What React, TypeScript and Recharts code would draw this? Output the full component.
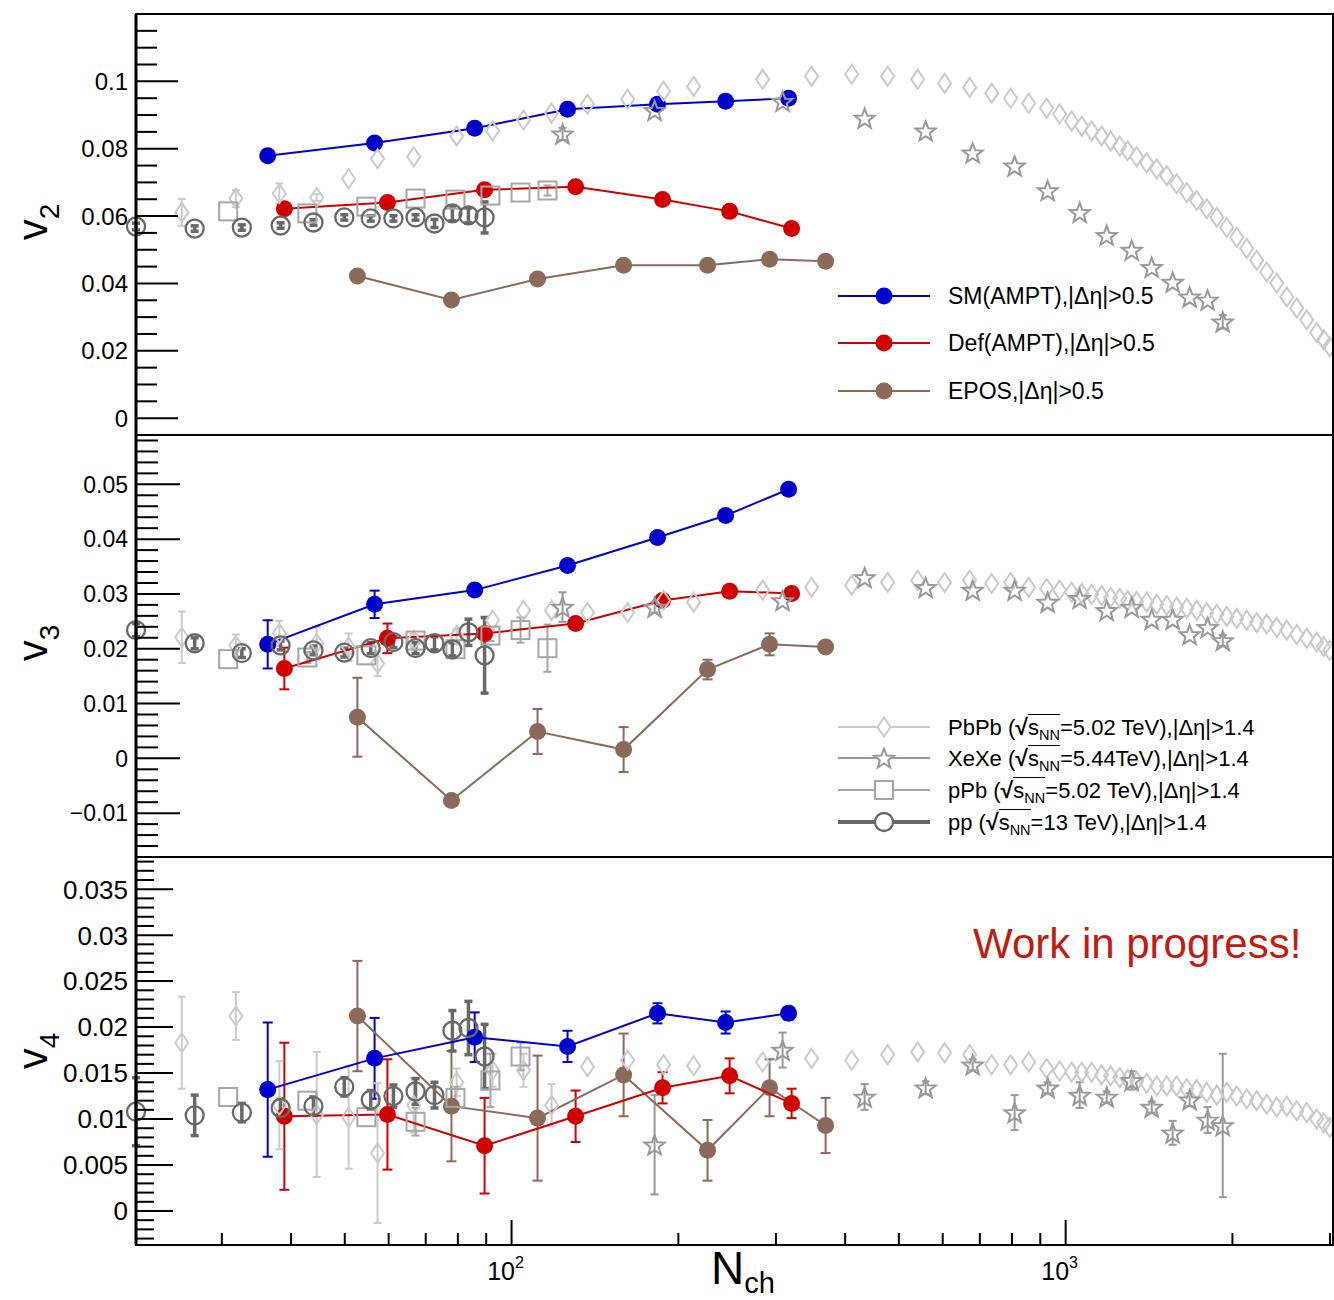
import React from 'react';
import { ComposedChart, Scatter, XAxis, YAxis, ErrorBar } from 'recharts';

const FONT = '"Liberation Sans", Arial, Helvetica, sans-serif';

// ---------------- colours ----------------
const C_SM = '#0000cc';
const C_DEF = '#d00000';
const C_EPOS = '#8c6a5b';
const C_PB = '#cacaca';
const C_XE = '#999999';
const C_PPB = '#a6a6a6';
const C_PP = '#686868';

// ---------------- x axis ----------------
const xTicks = [30, 40, 50, 60, 70, 80, 90, 100, 200, 300, 400, 500, 600, 700, 800, 900, 1000, 2000, 3000];
const xMajorTicks = [100, 1000];
const xMajorExp = ['2', '3'];
const xDomain: [number, number] = [21, 3050];

// ---------------- SM (AMPT) ----------------
const smNch = [36.3, 56.6, 85.8, 126.2, 183.4, 243.4, 316.2];
const smV2 = [0.0779, 0.0817, 0.0861, 0.0917, 0.0932, 0.0941, 0.095];
const smV3 = [0.0208, 0.0281, 0.0307, 0.0352, 0.0403, 0.0443, 0.0491];
const smV3Err = [0.0044, 0.0025, 0.001, 0, 0, 0, 0];
const smV4 = [0.0132, 0.0166, 0.0189, 0.0179, 0.0215, 0.0205, 0.0215];
const smV4Err = [0.0073, 0.0044, 0.0027, 0.0017, 0.0011, 0.0012, 0.0007];

// ---------------- Def (AMPT) ----------------
const defNch = [38.9, 59.7, 89.4, 130.5, 187.3, 247.5, 320.2];
const defV2 = [0.0622, 0.064, 0.0678, 0.0687, 0.0649, 0.0614, 0.0563];
const defV3 = [0.0164, 0.0219, 0.0228, 0.0246, 0.0288, 0.0305, 0.0301];
const defV3Err = [0.0038, 0.0027, 0.001, 0, 0, 0, 0];
const defV4 = [0.0103, 0.0105, 0.0071, 0.0103, 0.0134, 0.0147, 0.0117];
const defV4Err = [0.008, 0.006, 0.0052, 0.0028, 0.0017, 0.0019, 0.0016];

// ---------------- EPOS ----------------
const eposNch = [52.7, 77.9, 111.4, 159.3, 225.8, 292.2, 368.8];
const eposV2 = [0.0422, 0.0351, 0.0413, 0.0454, 0.0454, 0.0472, 0.0466];
const eposV2Err = [0.0015, 0.0012, 0, 0, 0, 0, 0];
const eposV3 = [0.0075, -0.0077, 0.0049, 0.0016, 0.0162, 0.0208, 0.0203];
const eposV3Err = [0.0072, 0.0004, 0.0041, 0.0041, 0.0018, 0.002, 0.001];
const eposV4 = [0.0212, 0.0114, 0.0101, 0.0148, 0.0066, 0.0134, 0.0093];
const eposV4Err = [0.006, 0.006, 0.0068, 0.0045, 0.0033, 0.0031, 0.003];

// ---------------- PbPb 5.02 TeV ----------------
const pbNch = [25.4, 31.8, 38.1, 44.5, 50.8, 57.3, 66.6, 79.6, 92.4, 105.1, 118.1, 137.1, 162.0, 188.1, 213.1, 283.9,
  347.9, 411.0, 477.2, 540.6, 604.7, 671.0, 735.3, 795.6, 857.5, 924.1, 975.4, 1025, 1069, 1114, 1161, 1206, 1252,
  1294, 1343, 1400, 1460, 1522, 1586, 1654, 1724, 1797, 1874, 1953, 2036, 2122, 2212, 2306, 2404, 2506, 2612, 2723,
  2839, 2922, 2996];
const pbV2 = [0.0611, 0.0652, 0.0667, 0.0655, 0.0711, 0.077, 0.0776, 0.0838, 0.0853, 0.0885, 0.0906, 0.0932, 0.0947,
  0.0971, 0.0985, 0.1006, 0.1015, 0.1021, 0.1015, 0.1006, 0.0994, 0.0982, 0.0965, 0.095, 0.0935, 0.092, 0.0903,
  0.0882, 0.0867, 0.0853, 0.0838, 0.0823, 0.0808, 0.0794, 0.0776, 0.0758, 0.074, 0.072, 0.0696, 0.067, 0.0646,
  0.0622, 0.0596, 0.0566, 0.0537, 0.0504, 0.0469, 0.0434, 0.0401, 0.036, 0.0327, 0.0292, 0.0254, 0.0233, 0.0212];
const pbV2Err = [0.004, 0.0025, 0.003, 0.001];
const pbV3 = [0.0221, 0.0206, 0.0228, 0.021, 0.0203, 0.0173, 0.0215, 0.0224, 0.0252, 0.027, 0.027, 0.0266, 0.0266,
  0.0288, 0.0285, 0.0307, 0.0312, 0.0316, 0.0321, 0.0325, 0.0321, 0.0325, 0.0319, 0.0321, 0.0312, 0.031, 0.0307,
  0.0303, 0.0301, 0.0299, 0.0297, 0.0294, 0.0292, 0.0288, 0.0286, 0.0285, 0.0281, 0.0279, 0.0276, 0.0274, 0.027,
  0.0266, 0.0263, 0.0259, 0.0255, 0.0252, 0.0248, 0.0245, 0.0239, 0.0234, 0.0226, 0.0219, 0.0212, 0.0204, 0.0197];
const pbV3Err = [0.0047, 0.002, 0.0023, 0.003, 0.0025, 0.0023, 0.0012, 0.0012];
const pbV4 = [0.0183, 0.0212, 0.0115, 0.0105, 0.0102, 0.0063, 0.0115, 0.014, 0.0153, 0.0153, 0.0115, 0.0157, 0.0164,
  0.0159, 0.0158, 0.0162, 0.0166, 0.0164, 0.017, 0.0173, 0.0172, 0.017, 0.0159, 0.0159, 0.0162, 0.0155, 0.0152,
  0.0151, 0.0151, 0.0151, 0.0148, 0.0147, 0.0145, 0.0143, 0.0141, 0.0139, 0.0136, 0.0136, 0.0136, 0.0133, 0.0132,
  0.0129, 0.0126, 0.0129, 0.0125, 0.0122, 0.012, 0.0116, 0.0113, 0.0114, 0.0109, 0.0107, 0.01, 0.0096, 0.0091];
const pbV4Err = [0.005, 0.0026, 0.0048, 0.0068, 0.0056, 0.0076, 0.003, 0.0015, 0.0018, 0.0018, 0.0023];

// ---------------- XeXe 5.44 TeV ----------------
const xeNch = [123.6, 181.2, 308.4, 433.7, 558.9, 679.5, 808.9, 928.0, 1060, 1186, 1316, 1430, 1560, 1674, 1804, 1921];
const xeV2 = [0.0844, 0.0914, 0.0941, 0.0891, 0.0853, 0.0788, 0.0749, 0.0676, 0.0611, 0.0543, 0.0499, 0.0448,
  0.0404, 0.036, 0.0351, 0.0286];
const xeV2Err = [0.0018, 0, 0, 0, 0, 0, 0, 0, 0, 0, 0, 0, 0, 0, 0, 0.002];
const xeV3 = [0.0276, 0.0276, 0.0288, 0.033, 0.0312, 0.0307, 0.0307, 0.0285, 0.0292, 0.027, 0.0276, 0.0254, 0.0254,
  0.0226, 0.0239, 0.0215];
const xeV3Err = [0.0027, 0.001, 0, 0, 0, 0, 0, 0, 0, 0, 0, 0, 0, 0, 0, 0.001];
const xeV4: (number | null)[] = [null, 0.0072, 0.0175, 0.0124, 0.0134, 0.0159, 0.0107, 0.0134, 0.0126, 0.0124,
  0.0142, 0.0113, 0.0085, 0.0121, 0.0099, 0.0093];
const xeV4Err = [0, 0.0054, 0.0019, 0.0014, 0.0007, 0.0006, 0.0019, 0.0006, 0.0014, 0.0006, 0.001, 0.0006, 0.0013,
  0.0007, 0.0014, 0.0078];

// ---------------- pPb 5.02 TeV ----------------
const ppbNch = [30.8, 42.8, 54.7, 67.1, 79.2, 91.6, 103.8, 116.1];
const ppbV2 = [0.0614, 0.0608, 0.0628, 0.0652, 0.0649, 0.0661, 0.067, 0.0676];
const ppbV2Err = [0, 0, 0, 0, 0, 0, 0, 0.0015];
const ppbV3 = [0.0181, 0.0184, 0.0188, 0.0215, 0.0199, 0.0224, 0.0234, 0.0201];
const ppbV3Err = [0, 0.001, 0, 0, 0, 0.001, 0.0023, 0.0043];
const ppbV4: (number | null)[] = [0.0124, 0.012, 0.0102, 0.0097, 0.0123, 0.0142, 0.0168, null];
const ppbV4Err = [0, 0, 0, 0.0015, 0.0012, 0.0029, 0.0015, 0];

// ---------------- pp 13 TeV ----------------
const ppNch = [21.0, 26.8, 32.6, 38.3, 43.9, 49.9, 55.7, 61.2, 67.1, 72.6, 78.2, 83.6, 89.4];
const ppV2 = [0.0569, 0.0563, 0.0566, 0.0572, 0.0581, 0.0596, 0.0593, 0.0593, 0.0596, 0.0578, 0.0608, 0.0602, 0.0596];
const ppV2Err = [0.001, 0.0008, 0.0008, 0.0008, 0.0008, 0.0008, 0.0008, 0.0008, 0.0008, 0.0012, 0.0022, 0.0022, 0.0046];
const ppV3 = [0.0234, 0.021, 0.0192, 0.0206, 0.0197, 0.0193, 0.0201, 0.0212, 0.0201, 0.021, 0.0199, 0.023, 0.0188];
const ppV3Err = [0.0012, 0.001, 0.0008, 0.0008, 0.0008, 0.0008, 0.001, 0.001, 0.001, 0.0012, 0.0012, 0.0024, 0.0069];
const ppV4 = [0.0108, 0.0104, 0.0107, 0.0112, 0.0114, 0.0135, 0.0121, 0.0125, 0.013, 0.0126, 0.0196, 0.0199, 0.0168];
const ppV4Err = [0.0037, 0.0022, 0.001, 0.001, 0.001, 0.001, 0.001, 0.0012, 0.0014, 0.0014, 0.0022, 0.0029, 0.0035];

// ---------------- y axis ticks / labels ----------------
const v2Majors = [0, 0.02, 0.04, 0.06, 0.08, 0.1];
const v2Labels = ['0', '0.02', '0.04', '0.06', '0.08', '0.1'];
const v3Majors = [-0.01, 0, 0.01, 0.02, 0.03, 0.04, 0.05];
const v3Labels = ['\u22120.01', '0', '0.01', '0.02', '0.03', '0.04', '0.05'];
const v4Majors = [0, 0.005, 0.01, 0.015, 0.02, 0.025, 0.03, 0.035];
const v4Labels = ['0', '0.005', '0.01', '0.015', '0.02', '0.025', '0.03', '0.035'];

// ---------------- legends ----------------
const modelLegendLabels = ['SM(AMPT),|\u0394\u03b7|>0.5', 'Def(AMPT),|\u0394\u03b7|>0.5', 'EPOS,|\u0394\u03b7|>0.5'];
const dataLegendSystems = ['PbPb', 'XeXe', 'pPb', 'pp'];
const dataLegendEnergies = ['5.02 TeV', '5.44TeV', '5.02 TeV', '13 TeV'];
const dataLegendCut = ',|\u0394\u03b7|>1.4';
const yTitles = ['2', '3', '4'];

// ====================================================================
const PL = 136; // plot left (page px)
const W = 1334;

type Row = { x: number; y: number; e: number };
const rows = (xs: number[], ys: (number | null)[], es?: number[]): Row[] =>
  xs
    .map((x, i) => ({ x, y: ys[i] as number, e: es && es[i] ? es[i] : 0 }))
    .filter((r) => r.y !== null && r.y !== undefined);

const range = (a: number, b: number, step: number) => {
  const out: number[] = [];
  for (let v = a; v <= b + 1e-9; v += step) out.push(Math.round(v * 1e6) / 1e6);
  return out;
};

type Kind = 'dot' | 'diamond' | 'star' | 'square' | 'circle';

const starPts = (cx: number, cy: number, R: number, r: number) => {
  const pts: string[] = [];
  for (let k = 0; k < 10; k++) {
    const a = -Math.PI / 2 + (k * Math.PI) / 5;
    const rad = k % 2 === 0 ? R : r;
    pts.push(`${(cx + rad * Math.cos(a)).toFixed(2)},${(cy + rad * Math.sin(a)).toFixed(2)}`);
  }
  return pts.join(' ');
};

function Marker({ kind, color, cx, cy, fill }: { kind: Kind; color: string; cx: number; cy: number; fill?: string }) {
  const f = fill || 'none';
  switch (kind) {
    case 'dot':
      return <circle cx={cx} cy={cy} r={8.5} fill={color} />;
    case 'diamond':
      return (
        <polygon
          points={`${cx},${cy - 9.5} ${cx + 6.5},${cy} ${cx},${cy + 9.5} ${cx - 6.5},${cy}`}
          fill={f}
          stroke={color}
          strokeWidth={2}
        />
      );
    case 'star':
      return <polygon points={starPts(cx, cy + 1, 10.5, 4.4)} fill={f} stroke={color} strokeWidth={2} />;
    case 'square':
      return <rect x={cx - 9} y={cy - 9} width={18} height={18} fill={f} stroke={color} strokeWidth={2} />;
    case 'circle':
    default:
      return <circle cx={cx} cy={cy} r={9} fill={f} stroke={color} strokeWidth={2.3} />;
  }
}

const shapeFn = (kind: Kind, color: string) => (p: any) => {
  if (p == null || p.cx == null || p.cy == null || isNaN(p.cx) || isNaN(p.cy)) return <g />;
  return <Marker kind={kind} color={color} cx={p.cx} cy={p.cy} />;
};

type Series = { key: string; data: Row[]; color: string; kind: Kind; line?: boolean; errW: number; errSW: number };

type PanelCfg = {
  top: number;
  height: number;
  marginTop: number;
  xAxisH: number;
  plotBottom: number; // local
  domain: [number, number];
  majors: number[];
  labels: string[];
  minorStep: number;
  majorLen: number;
  minorLen: number;
  fontSize: number;
  xMajorLen: number;
  xMinorLen: number;
  showXLabels: boolean;
  series: Series[];
};

const modelSeries = (v: 2 | 3 | 4): Series[] => {
  const sm = v === 2 ? rows(smNch, smV2) : v === 3 ? rows(smNch, smV3, smV3Err) : rows(smNch, smV4, smV4Err);
  const df = v === 2 ? rows(defNch, defV2) : v === 3 ? rows(defNch, defV3, defV3Err) : rows(defNch, defV4, defV4Err);
  const ep =
    v === 2 ? rows(eposNch, eposV2, eposV2Err) : v === 3 ? rows(eposNch, eposV3, eposV3Err) : rows(eposNch, eposV4, eposV4Err);
  return [
    { key: 'epos', data: ep, color: C_EPOS, kind: 'dot', line: true, errW: 5, errSW: 2 },
    { key: 'def', data: df, color: C_DEF, kind: 'dot', line: true, errW: 5, errSW: 2 },
    { key: 'sm', data: sm, color: C_SM, kind: 'dot', line: true, errW: 5, errSW: 2 },
  ];
};

const dataSeries = (v: 2 | 3 | 4): Series[] => {
  const pb = v === 2 ? rows(pbNch, pbV2, pbV2Err) : v === 3 ? rows(pbNch, pbV3, pbV3Err) : rows(pbNch, pbV4, pbV4Err);
  const xe = v === 2 ? rows(xeNch, xeV2, xeV2Err) : v === 3 ? rows(xeNch, xeV3, xeV3Err) : rows(xeNch, xeV4, xeV4Err);
  const pa = v === 2 ? rows(ppbNch, ppbV2, ppbV2Err) : v === 3 ? rows(ppbNch, ppbV3, ppbV3Err) : rows(ppbNch, ppbV4, ppbV4Err);
  const pp = v === 2 ? rows(ppNch, ppV2, ppV2Err) : v === 3 ? rows(ppNch, ppV3, ppV3Err) : rows(ppNch, ppV4, ppV4Err);
  return [
    { key: 'pb', data: pb, color: C_PB, kind: 'diamond', errW: 4, errSW: 2 },
    { key: 'xe', data: xe, color: C_XE, kind: 'star', errW: 4, errSW: 2 },
    { key: 'ppb', data: pa, color: C_PPB, kind: 'square', errW: 4, errSW: 2 },
    { key: 'pp', data: pp, color: C_PP, kind: 'circle', errW: 4, errSW: 3.5 },
  ];
};

const panels: PanelCfg[] = [
  {
    top: 0, height: 435, marginTop: 14, xAxisH: 0, plotBottom: 435,
    domain: [-0.005, 0.12], majors: v2Majors, labels: v2Labels, minorStep: 0.005,
    majorLen: 42, minorLen: 21, fontSize: 24, xMajorLen: 22, xMinorLen: 11, showXLabels: false,
    series: [...modelSeries(2), ...dataSeries(2)],
  },
  {
    top: 435, height: 422, marginTop: 0, xAxisH: 0, plotBottom: 422,
    domain: [-0.018, 0.059], majors: v3Majors, labels: v3Labels, minorStep: 0.002,
    majorLen: 44, minorLen: 22, fontSize: 23, xMajorLen: 22, xMinorLen: 11, showXLabels: false,
    series: [...modelSeries(3), ...dataSeries(3)],
  },
  {
    top: 857, height: 443, marginTop: 0, xAxisH: 55, plotBottom: 388,
    domain: [-0.0037, 0.0385], majors: v4Majors, labels: v4Labels, minorStep: 0.001,
    majorLen: 37, minorLen: 18, fontSize: 26, xMajorLen: 25, xMinorLen: 12, showXLabels: true,
    series: [...modelSeries(4), ...dataSeries(4)],
  },
];

function Panel({ cfg }: { cfg: PanelCfg }) {
  const lo = Math.ceil(cfg.domain[0] / cfg.minorStep) * cfg.minorStep;
  const hi = Math.floor(cfg.domain[1] / cfg.minorStep) * cfg.minorStep;
  const yTicks = range(lo, hi, cfg.minorStep).filter((v) => v > cfg.domain[0] + 1e-9 && v < cfg.domain[1] - 1e-9);

  const yTick = (p: any) => {
    const v = p.payload.value as number;
    const mi = cfg.majors.findIndex((m) => Math.abs(m - v) < 1e-7);
    const major = mi >= 0;
    return (
      <g>
        <line x1={PL} x2={PL + (major ? cfg.majorLen : cfg.minorLen)} y1={p.y} y2={p.y} stroke="#000" strokeWidth={2} />
        {major && (
          <text x={PL - 8} y={p.y} dy="0.36em" textAnchor="end" fontSize={cfg.fontSize} fontFamily={FONT} fill="#000">
            {cfg.labels[mi]}
          </text>
        )}
      </g>
    );
  };

  const xTick = (p: any) => {
    const v = p.payload.value as number;
    const mi = xMajorTicks.indexOf(v);
    const major = mi >= 0;
    const yb = cfg.plotBottom;
    return (
      <g>
        <line x1={p.x} x2={p.x} y1={yb} y2={yb - (major ? cfg.xMajorLen : cfg.xMinorLen)} stroke="#000" strokeWidth={2} />
        {cfg.showXLabels && major && (
          <text x={p.x - 6} y={yb + 35} textAnchor="middle" fontSize={25} fontFamily={FONT} fill="#000">
            10
            <tspan fontSize={16} dy={-12}>
              {xMajorExp[mi]}
            </tspan>
          </text>
        )}
      </g>
    );
  };

  return (
    <ComposedChart width={W} height={cfg.height} margin={{ top: cfg.marginTop, right: 0, bottom: 0, left: 0 }}>
      <XAxis
        dataKey="x"
        type="number"
        scale="log"
        domain={xDomain}
        ticks={xTicks}
        interval={0}
        tick={xTick}
        tickLine={false}
        axisLine={false}
        height={cfg.xAxisH}
      />
      <YAxis
        dataKey="y"
        type="number"
        domain={cfg.domain}
        ticks={yTicks}
        interval={0}
        tick={yTick}
        tickLine={false}
        axisLine={false}
        width={PL}
      />
      {cfg.series.map((s) => (
        <Scatter
          key={s.key}
          name={s.key}
          data={s.data}
          fill={s.color}
          isAnimationActive={false}
          shape={shapeFn(s.kind, s.color)}
          line={s.line ? { stroke: s.color, strokeWidth: 2 } : false}
        >
          <ErrorBar dataKey="e" direction="y" width={s.errW} stroke={s.color} strokeWidth={s.errSW} isAnimationActive={false} />
        </Scatter>
      ))}
    </ComposedChart>
  );
}

function SqrtS() {
  return (
    <>
      <span style={{ fontWeight: 'bold', fontSize: '1.05em' }}>{'\u221a'}</span>
      <span style={{ borderTop: '1.6px solid #000' }}>
        s<span style={{ fontSize: '0.66em', position: 'relative', top: '0.35em' }}>NN</span>
      </span>
    </>
  );
}

const modelColors = [C_SM, C_DEF, C_EPOS];
const modelLegendY = [296, 343, 391];
const dataKinds: Kind[] = ['diamond', 'star', 'square', 'circle'];
const dataColors = [C_PB, C_XE, C_PPB, C_PP];
const dataLegendY = [727, 758, 790, 822];
const dataLineW = [2, 2, 2, 4];

export default function App() {
  return (
    <div style={{ position: 'absolute', left: 0, top: 0, width: W, height: 1300, background: '#fff', overflow: 'hidden' }}>
      {panels.map((p, i) => (
        <div key={i} style={{ position: 'absolute', left: 0, top: p.top }}>
          <Panel cfg={p} />
        </div>
      ))}
      <svg
        width={W}
        height={1300}
        style={{ position: 'absolute', left: 0, top: 0, pointerEvents: 'none' }}
        fontFamily={FONT}
      >
        {/* frames */}
        <rect x={PL} y={14} width={1333 - PL} height={421} fill="none" stroke="#000" strokeWidth={2} />
        <rect x={PL} y={435} width={1333 - PL} height={422} fill="none" stroke="#000" strokeWidth={2} />
        <rect x={PL} y={857} width={1333 - PL} height={388} fill="none" stroke="#000" strokeWidth={2} />
        <line x1={PL} x2={PL} y1={14} y2={1245} stroke="#000" strokeWidth={3} />

        {/* y titles */}
        {[222, 643, 1051].map((cy, i) => (
          <text key={i} transform={`translate(47,${cy}) rotate(-90)`} textAnchor="middle" fontSize={42} fill="#000">
            v
            <tspan fontSize={28} dy={12}>
              {yTitles[i]}
            </tspan>
          </text>
        ))}

        {/* x title */}
        <text x={711} y={1284} fontSize={46} fill="#000">
          N
          <tspan fontSize={29} dy={9}>
            ch
          </tspan>
        </text>

        {/* model legend samples */}
        {modelLegendY.map((y, i) => (
          <g key={i}>
            <line x1={838} x2={930} y1={y} y2={y} stroke={modelColors[i]} strokeWidth={2} />
            <circle cx={884} cy={y} r={8.5} fill={modelColors[i]} />
          </g>
        ))}

        {/* data legend samples */}
        {dataLegendY.map((y, i) => (
          <g key={i}>
            <line x1={838} x2={930} y1={y} y2={y} stroke={dataColors[i]} strokeWidth={dataLineW[i]} />
            <Marker kind={dataKinds[i]} color={dataColors[i]} cx={884} cy={y} fill="#fff" />
          </g>
        ))}

        <text x={973} y={958} fontSize={42} fill="#c01c12">
          Work in progress!
        </text>
      </svg>

      {modelLegendLabels.map((t, i) => (
        <div
          key={i}
          style={{
            position: 'absolute', left: 948, top: modelLegendY[i] - 14, fontSize: 23, lineHeight: '28px',
            fontFamily: FONT, whiteSpace: 'nowrap', color: '#000',
          }}
        >
          {t}
        </div>
      ))}
      {dataLegendSystems.map((s, i) => (
        <div
          key={i}
          style={{
            position: 'absolute', left: 948, top: dataLegendY[i] - 14, fontSize: 22, lineHeight: '28px',
            fontFamily: FONT, whiteSpace: 'nowrap', color: '#000',
          }}
        >
          {s} (<SqrtS />={dataLegendEnergies[i]}){dataLegendCut}
        </div>
      ))}
    </div>
  );
}
